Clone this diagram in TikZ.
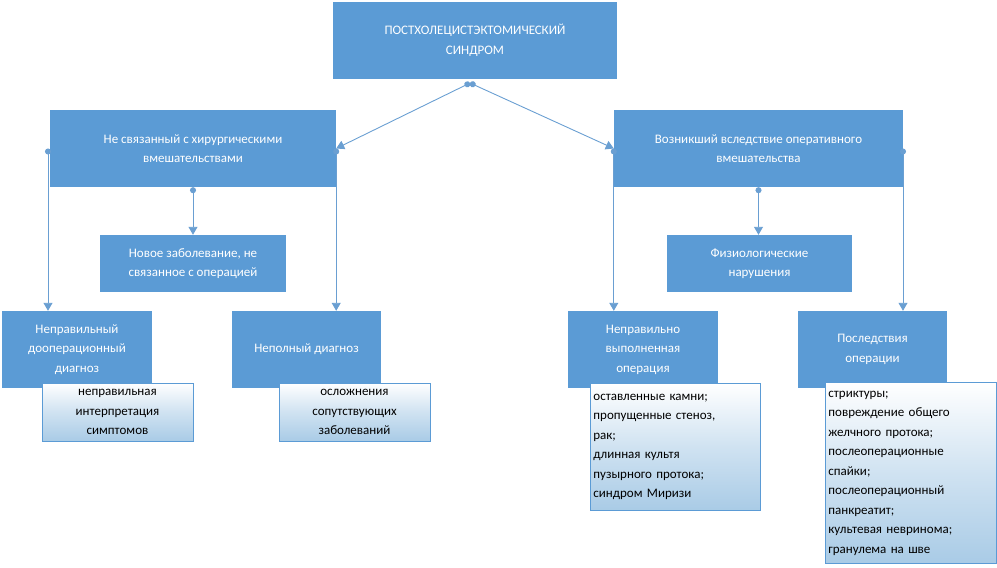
\documentclass[tikz,border=0pt]{standalone}
\usepackage{fontspec}
\setmainfont{Carlito}
\usetikzlibrary{arrows.meta}
\definecolor{bx}{HTML}{5B9BD5}
\definecolor{sb}{HTML}{A9CBE6}
\definecolor{ln}{HTML}{6A9FD2}
\begin{document}
\begin{tikzpicture}[x=1pt,y=-1pt,
  mainbox/.style={fill=bx,text=white,inner sep=2pt,align=center,font=\fontsize{13}{19.5}\selectfont},
  subbox/.style={draw=bx,line width=0.8pt,top color=white,bottom color=sb,middle color=white!45!sb,text=black,inner sep=2pt,font=\fontsize{13}{19.5}\selectfont},
  conn/.style={draw=ln,line width=0.9pt,{Circle[length=6pt]}-{Triangle[width=9pt,length=8pt]}}]
\useasboundingbox (0,0) rectangle (997,568);
\node[mainbox,minimum width=284pt,minimum height=77pt] (top) at (475,40.5) {ПОСТХОЛЕЦИСТЭКТОМИЧЕСКИЙ\\СИНДРОМ};
\node[mainbox,minimum width=286pt,minimum height=77pt] (l1) at (193,148.5) {Не связанный с хирургическими\\вмешательствами};
\node[mainbox,minimum width=289pt,minimum height=77pt] (r1) at (758.5,148.5) {Возникший вследствие оперативного\\вмешательства};
\node[mainbox,minimum width=186pt,minimum height=57pt] (l2) at (193,263.5) {Новое заболевание, не\\связанное с операцией};
\node[mainbox,minimum width=185pt,minimum height=57pt] (r2) at (759.5,263.5) {Физиологические\\нарушения};
\node[mainbox,minimum width=150pt,minimum height=77pt] (a) at (77,349.5) {Неправильный\\дооперационный\\диагноз};
\node[mainbox,minimum width=149pt,minimum height=77pt] (b) at (306.5,349.5) {Неполный диагноз};
\node[mainbox,minimum width=150pt,minimum height=77pt] (c) at (643,349.5) {Неправильно\\выполненная\\операция};
\node[mainbox,minimum width=149pt,minimum height=77pt] (d) at (872.5,349.5) {Последствия\\операции};
\node[subbox,minimum width=151pt,minimum height=58pt,align=center] (sa) at (117.5,412) {неправильная\\интерпретация\\симптомов};
\node[subbox,minimum width=151pt,minimum height=58pt,align=center] (sbx) at (354.5,412) {осложнения\\сопутствующих\\заболеваний};
\node[subbox,minimum width=170pt,minimum height=127pt,text width=164pt,align=left,anchor=north west] (sc) at (590,383) {оставленные камни;\\пропущенные стеноз,\\рак;\\длинная культя\\пузырного протока;\\синдром Миризи};
\node[subbox,minimum width=171pt,minimum height=181pt,text width=165pt,align=left,anchor=north west] (sd) at (825,382) {стриктуры;\\повреждение общего\\желчного протока;\\послеоперационные\\спайки;\\послеоперационный\\панкреатит;\\культевая невринома;\\гранулема на шве};
\coordinate (tb) at (470,83);
\draw[conn] (tb) -- (l1.east);
\draw[conn] (tb) -- (r1.west);
\draw[conn] (48,148.5) -- (a.north -| 48,0);
\draw[conn] (l1.east) -- (b.north -| l1.east);
\draw[conn] (l1.south) -- (l2.north);
\draw[conn] (r1.west) -- (c.north -| r1.west);
\draw[conn] (903,148.5) -- (d.north -| 903,0);
\draw[conn] (r1.south) -- (r2.north -| r1.south);
\end{tikzpicture}
\end{document}
